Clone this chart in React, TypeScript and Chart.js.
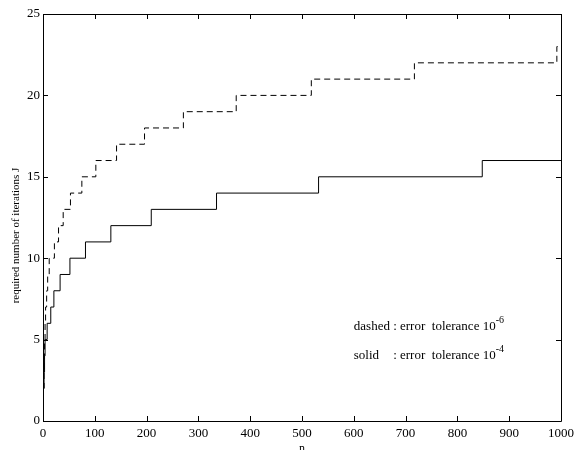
import React, { useEffect, useRef } from "react";
import { Chart, registerables } from "chart.js";

Chart.register(...registerables);

// Iteration count J versus n (step change points: n where J takes the new value)
const solidN = [1, 2, 3, 4, 8, 15, 21, 33, 52, 82, 131, 209, 335, 532, 848, 1000];
const solidJ = [2, 3, 4, 5, 6, 7, 8, 9, 10, 11, 12, 13, 14, 15, 16, 16];
const dashedN = [1, 2, 3, 4, 5, 7, 9, 12, 22, 30, 39, 53, 75, 102, 142, 196, 271, 373, 518, 717, 992, 1000];
const dashedJ = [2, 4, 5, 6, 7, 8, 9, 10, 11, 12, 13, 14, 15, 16, 17, 18, 19, 20, 21, 22, 23, 23];

const xTicks = [0, 100, 200, 300, 400, 500, 600, 700, 800, 900, 1000];
const yTicks = [0, 5, 10, 15, 20, 25];

const xTitle = "n";
const yTitle = "required number of iterations J";
const noteDashedHead = "dashed";
const noteSolidHead = "solid";
const noteBody = ": error  tolerance 10";
const noteDashedExp = "-6";
const noteSolidExp = "-4";

const FONT = "'Liberation Serif', 'Times New Roman', Times, serif";

const framePlugin = {
  id: "frame",
  afterDraw(chart: any) {
    const { ctx, chartArea } = chart;
    const { left, right, top, bottom } = chartArea;
    const xs = chart.scales.x;
    const ys = chart.scales.y;
    ctx.save();
    ctx.strokeStyle = "#000";
    ctx.lineWidth = 1;
    ctx.beginPath();
    ctx.rect(Math.round(left) + 0.5, Math.round(top) + 0.5, Math.round(right - left), Math.round(bottom - top));
    ctx.stroke();
    const tl = 5;
    ctx.beginPath();
    xTicks.forEach((v) => {
      const px = Math.round(xs.getPixelForValue(v)) + 0.5;
      ctx.moveTo(px, bottom);
      ctx.lineTo(px, bottom - tl);
      ctx.moveTo(px, top);
      ctx.lineTo(px, top + tl);
    });
    yTicks.forEach((v) => {
      const py = Math.round(ys.getPixelForValue(v)) + 0.5;
      ctx.moveTo(left, py);
      ctx.lineTo(left + tl, py);
      ctx.moveTo(right, py);
      ctx.lineTo(right - tl, py);
    });
    ctx.stroke();

    ctx.fillStyle = "#000";
    // y title
    ctx.save();
    ctx.translate(left - 27, (top + bottom) / 2 + 18);
    ctx.rotate(-Math.PI / 2);
    ctx.font = `11px ${FONT}`;
    ctx.textAlign = "center";
    ctx.textBaseline = "middle";
    ctx.fillText(yTitle, 0, 0);
    ctx.restore();

    // x title
    ctx.font = `12px ${FONT}`;
    ctx.textAlign = "center";
    ctx.textBaseline = "alphabetic";
    ctx.fillText(xTitle, (left + right) / 2, bottom + 31);

    // annotations
    ctx.font = `13px ${FONT}`;
    ctx.textAlign = "left";
    const x0 = xs.getPixelForValue(600);
    const bodyX = x0 + ctx.measureText(noteDashedHead + " ").width;
    const lines = [
      { head: noteDashedHead, exp: noteDashedExp, y: ys.getPixelForValue(5.6) },
      { head: noteSolidHead, exp: noteSolidExp, y: ys.getPixelForValue(3.8) },
    ];
    lines.forEach((l) => {
      ctx.font = `13px ${FONT}`;
      ctx.fillText(l.head, x0, l.y);
      ctx.fillText(noteBody, bodyX, l.y);
      const w = ctx.measureText(noteBody).width;
      ctx.font = `10px ${FONT}`;
      ctx.fillText(l.exp, bodyX + w, l.y - 7);
    });
    ctx.restore();
  },
};

export default function App() {
  const ref = useRef<HTMLCanvasElement | null>(null);
  useEffect(() => {
    if (!ref.current) return;
    const chart = new Chart(ref.current, {
      type: "line",
      data: {
        datasets: [
          {
            label: "dashed",
            data: dashedN.map((n, i) => ({ x: n, y: dashedJ[i] })),
            borderColor: "#000",
            borderWidth: 1,
            borderDash: [6, 4],
            pointRadius: 0,
            stepped: "before",
            fill: false,
          },
          {
            label: "solid",
            data: solidN.map((n, i) => ({ x: n, y: solidJ[i] })),
            borderColor: "#000",
            borderWidth: 1,
            pointRadius: 0,
            stepped: "before",
            fill: false,
          },
        ],
      },
      options: {
        animation: false,
        responsive: true,
        maintainAspectRatio: false,
        layout: { padding: { top: 14, right: 14, left: 0, bottom: 0 } },
        plugins: { legend: { display: false }, tooltip: { enabled: false } },
        scales: {
          x: {
            type: "linear",
            min: 0,
            max: 1000,
            afterBuildTicks: (s: any) => {
              s.ticks = xTicks.map((v) => ({ value: v }));
            },
            afterFit: (s: any) => {
              s.height = 29;
              s.paddingLeft = 0;
              s.paddingRight = 0;
            },
            grid: { display: false, drawTicks: false },
            border: { display: false },
            ticks: {
              color: "#000",
              padding: 5,
              maxRotation: 0,
              autoSkip: false,
              font: { family: FONT, size: 13 },
              callback: (v: any) => String(v),
            },
          },
          y: {
            type: "linear",
            min: 0,
            max: 25,
            afterBuildTicks: (s: any) => {
              s.ticks = yTicks.map((v) => ({ value: v }));
            },
            afterFit: (s: any) => {
              s.width = 43;
              s.paddingTop = 0;
              s.paddingBottom = 0;
            },
            grid: { display: false, drawTicks: false },
            border: { display: false },
            ticks: {
              color: "#000",
              padding: 3,
              autoSkip: false,
              font: { family: FONT, size: 13 },
              callback: (v: any) => String(v),
            },
          },
        },
      },
      plugins: [framePlugin],
    });
    return () => chart.destroy();
  }, []);
  return (
    <div style={{ position: "absolute", left: 0, top: 0, width: 575, height: 450, background: "#fff" }}>
      <canvas ref={ref} />
    </div>
  );
}
